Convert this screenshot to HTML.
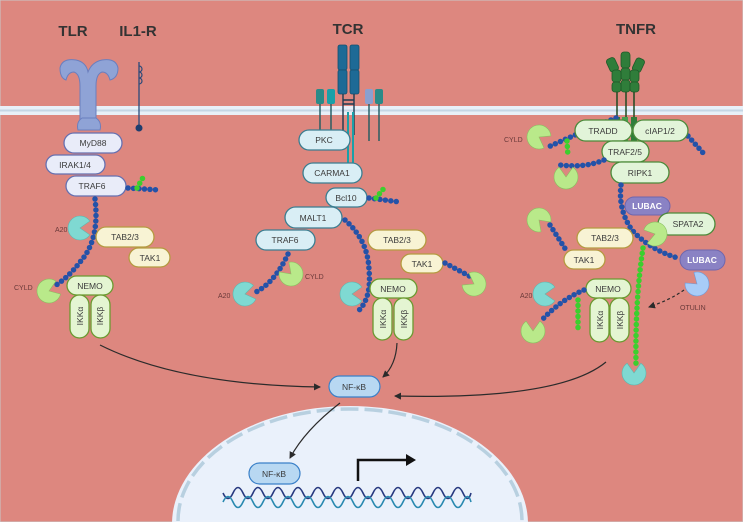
<!DOCTYPE html>
<html><head><meta charset="utf-8"><style>
html,body{margin:0;padding:0;background:#dd877f}
svg{display:block}
text{font-family:"Liberation Sans",sans-serif}
.lb{font-size:8.5px;fill:#3a3a3a;text-anchor:middle;dominant-baseline:central}
.sl{font-size:7px;fill:#6a3a3a}
.bp{fill:#e9ecf9;stroke:#6670b0;stroke-width:1.3}
.tp{fill:#d9eef5;stroke:#3b7d90;stroke-width:1.3}
.yp{fill:#f8f3d4;stroke:#b59a40;stroke-width:1.3}
.gp{fill:#e4f5d2;stroke:#6a9a30;stroke-width:1.3}
.np{fill:#e2f4d9;stroke:#4b8a3a;stroke-width:1.3}
.ub{fill:none;stroke:#2452a8;stroke-width:5.5;stroke-dasharray:0 5.5;stroke-linecap:round}
.m1{fill:none;stroke:#3ccf2e;stroke-width:5.5;stroke-dasharray:0 5.5;stroke-linecap:round}
.pg{fill:#b9e98a;stroke:#8ac060;stroke-width:.6}
.pt{fill:#7fd9d2;stroke:#5cb8b0;stroke-width:.6}
.ar{fill:none;stroke:#2b2b2b;stroke-width:1.2}
</style></head><body>
<svg width="743" height="522" viewBox="0 0 743 522" xmlns="http://www.w3.org/2000/svg">
<defs>
<path id="pac" d="M0 0 L9.8 -6.9 A12 12 0 1 0 9.8 6.9Z"/>
<marker id="ah" markerWidth="8" markerHeight="8" refX="6" refY="4" orient="auto" markerUnits="userSpaceOnUse"><path d="M0 0.5 L7 4 L0 7.5Z" fill="#2b2b2b"/></marker>
</defs>
<rect x="0" y="0" width="743" height="522" fill="#dd877f" stroke="#c9c9c9" stroke-width="1"/>
<rect x="0" y="106" width="743" height="9" fill="#e8f0f8"/>
<rect x="0" y="109.5" width="743" height="2" fill="#c5d6e5"/>
<text x="73" y="36" font-size="15" font-weight="bold" fill="#333" text-anchor="middle">TLR</text>
<text x="138" y="36" font-size="15" font-weight="bold" fill="#333" text-anchor="middle">IL1-R</text>
<text x="348" y="34" font-size="15" font-weight="bold" fill="#333" text-anchor="middle">TCR</text>
<text x="636" y="34" font-size="15" font-weight="bold" fill="#333" text-anchor="middle">TNFR</text>

<!-- TLR receptor -->
<g fill="#8fa3d6" stroke="#6a7fbf" stroke-width="1">
<path d="M60 68 Q62 58 76 60 Q86 62 88 72 Q92 62 102 60 Q116 58 118 68 Q118 78 110 80 Q108 72 102 72 Q96 74 96 86 L96 128 L80 128 L80 86 Q80 74 74 72 Q68 72 66 80 Q60 78 60 68Z"/>
<path d="M82 118 Q76 122 78 130 L100 130 Q102 122 96 118Z"/>
</g>
<path d="M139 62 L139 128" stroke="#2a4a7a" stroke-width="1.3"/>
<path d="M139 66 a3 3 0 1 1 0 6 a3 3 0 1 1 0 6 a3 3 0 1 1 0 6" fill="none" stroke="#2a4a7a" stroke-width="1.2"/>
<circle cx="139" cy="128" r="3.5" fill="#1e3d6e"/>

<rect class="bp" x="64" y="133" width="58" height="20" rx="10"/><text class="lb" x="93" y="143">MyD88</text>
<rect class="bp" x="46" y="155" width="59" height="19" rx="9.5"/><text class="lb" x="75" y="165">IRAK1/4</text>
<rect class="bp" x="66" y="176" width="60" height="20" rx="10"/><text class="lb" x="92" y="186">TRAF6</text>
<path class="ub" d="M128 188 L160 190"/>
<path class="m1" d="M137 188 L145 174"/>
<path class="ub" d="M95 199 Q100 240 80 262 Q68 278 53 287"/>
<use href="#pac" class="pt" transform="translate(80,228)"/><text class="sl" x="55" y="232">A20</text>
<use href="#pac" class="pg" transform="translate(49,291) rotate(-20)"/><text class="sl" x="14" y="290">CYLD</text>
<rect class="yp" x="96" y="227" width="58" height="20" rx="10"/><text class="lb" x="125" y="237">TAB2/3</text>
<rect class="yp" x="129" y="248" width="41" height="19" rx="9.5"/><text class="lb" x="150" y="258">TAK1</text>
<rect class="gp" x="67" y="276" width="46" height="19" rx="9.5"/><text class="lb" x="90" y="286">NEMO</text>
<rect class="gp" x="70" y="295" width="19" height="43" rx="9.5"/><text class="lb" transform="translate(80,316) rotate(-90)">IKKα</text>
<rect class="gp" x="91" y="295" width="19" height="43" rx="9.5"/><text class="lb" transform="translate(100,316) rotate(-90)">IKKβ</text>

<!-- TCR -->
<g fill="#1d6a96" stroke="#15506f" stroke-width=".8">
<rect x="338" y="45" width="9" height="25" rx="2"/><rect x="338" y="70" width="9" height="24" rx="2"/>
<rect x="350" y="45" width="9" height="25" rx="2"/><rect x="350" y="70" width="9" height="24" rx="2"/>
</g>
<path d="M343 94 V135 M354 94 V135 M343 100 H354 M343 104 H354" stroke="#1c3a50" stroke-width="1.4"/>
<rect x="316" y="89" width="8" height="15" rx="2" fill="#2a8a88"/><rect x="327" y="89" width="8" height="15" rx="2" fill="#1aa0a8"/>
<rect x="365" y="89" width="8" height="15" rx="2" fill="#8aa0d0"/><rect x="375" y="89" width="8" height="15" rx="2" fill="#2a8a88"/>
<path d="M320 104 V132 M331 104 V132 M369 104 V141 M379 104 V141" stroke="#1e5a60" stroke-width="1.4"/>
<path d="M348 112 V167 M353 112 V167" stroke="#1aa0a8" stroke-width="2"/>
<rect class="tp" x="299" y="130" width="51" height="20" rx="10"/><text class="lb" x="324" y="140">PKC</text>
<rect class="tp" x="303" y="163" width="59" height="20" rx="10"/><text class="lb" x="332" y="173">CARMA1</text>
<rect class="tp" x="326" y="188" width="41" height="19" rx="9.5"/><text class="lb" x="346" y="198">Bcl10</text>
<path class="ub" d="M369 198 L400 202"/>
<path class="m1" d="M376 198 L385 187"/>
<rect class="tp" x="285" y="207" width="57" height="21" rx="10.5"/><text class="lb" x="313" y="218">MALT1</text>
<rect class="tp" x="256" y="230" width="59" height="20" rx="10"/><text class="lb" x="285" y="240">TRAF6</text>
<path class="ub" d="M345 220 Q368 240 369 270 Q372 300 356 313"/>
<path class="ub" d="M288 254 Q275 282 256 292"/>
<use href="#pac" class="pg" transform="translate(291,274) rotate(-135)"/><text class="sl" x="305" y="279">CYLD</text>
<use href="#pac" class="pt" transform="translate(245,294) rotate(-10)"/><text class="sl" x="218" y="298">A20</text>
<use href="#pac" class="pt" transform="translate(352,294) rotate(0)"/>
<rect class="yp" x="368" y="230" width="58" height="20" rx="10"/><text class="lb" x="397" y="240">TAB2/3</text>
<rect class="yp" x="401" y="254" width="42" height="19" rx="9.5"/><text class="lb" x="422" y="264">TAK1</text>
<path class="ub" d="M445 263 L473 278"/>
<use href="#pac" class="pg" transform="translate(474,284) rotate(-150)"/>
<rect class="gp" x="370" y="279" width="47" height="19" rx="9.5"/><text class="lb" x="393" y="289">NEMO</text>
<rect class="gp" x="373" y="298" width="19" height="42" rx="9.5"/><text class="lb" transform="translate(383,319) rotate(-90)">IKKα</text>
<rect class="gp" x="394" y="298" width="19" height="42" rx="9.5"/><text class="lb" transform="translate(404,319) rotate(-90)">IKKβ</text>

<!-- TNFR -->
<g fill="#2f7d3a" stroke="#1f5a28" stroke-width=".8">
<rect x="621" y="52" width="9" height="16" rx="3"/><rect x="621" y="68" width="9" height="12" rx="3"/><rect x="621" y="80" width="9" height="12" rx="3"/>
<rect x="608" y="58" width="9" height="14" rx="3" transform="rotate(-25 612 65)"/><rect x="612" y="70" width="9" height="12" rx="3"/><rect x="612" y="82" width="9" height="10" rx="3"/>
<rect x="634" y="58" width="9" height="14" rx="3" transform="rotate(25 638 65)"/><rect x="630" y="70" width="9" height="12" rx="3"/><rect x="630" y="82" width="9" height="10" rx="3"/>
</g>
<path d="M617 92 V140 M626 92 V140 M634 92 V140" stroke="#1e4a22" stroke-width="1.5"/>
<rect x="614" y="117" width="6" height="24" fill="#2f7d3a"/><rect x="622" y="117" width="6" height="24" fill="#46a050"/><rect x="631" y="117" width="6" height="24" fill="#2f7d3a"/>
<path class="ub" d="M616 118 Q590 128 546 148"/>
<path class="m1" d="M567 141 L568 157"/>
<use href="#pac" class="pg" transform="translate(539,137) rotate(30)"/><text class="sl" x="504" y="142">CYLD</text>
<path class="ub" d="M688 136 L705 155"/>
<rect class="np" x="575" y="120" width="57" height="21" rx="10.5"/><text class="lb" x="603" y="131">TRADD</text>
<rect class="np" x="633" y="120" width="55" height="21" rx="10.5"/><text class="lb" x="660" y="131">cIAP1/2</text>
<rect class="np" x="602" y="141" width="47" height="21" rx="10.5"/><text class="lb" x="625" y="152">TRAF2/5</text>
<path class="ub" d="M604 160 Q585 168 560 165"/>
<use href="#pac" class="pg" transform="translate(566,177) rotate(-90)"/>
<rect class="np" x="611" y="162" width="58" height="21" rx="10.5"/><text class="lb" x="640" y="173">RIPK1</text>
<path class="ub" d="M621 185 Q618 210 632 230 Q650 250 678 258"/>
<rect x="625" y="197" width="45" height="18" rx="9" fill="#8a82c4" stroke="#6f66ad"/><text x="647" y="206" font-size="8.5" font-weight="bold" fill="#fff" text-anchor="middle" dominant-baseline="central">LUBAC</text>
<rect class="np" x="658" y="213" width="57" height="22" rx="11"/><text class="lb" x="688" y="224">SPATA2</text>
<use href="#pac" class="pg" transform="translate(655,234) rotate(165)"/>
<path class="m1" d="M643 248 Q635 300 636 365"/>
<use href="#pac" class="pt" transform="translate(634,373) rotate(-90)"/>
<rect x="680" y="250" width="45" height="20" rx="10" fill="#8a82c4" stroke="#6f66ad"/><text x="702" y="260" font-size="8.5" font-weight="bold" fill="#fff" text-anchor="middle" dominant-baseline="central">LUBAC</text>
<use href="#pac" fill="#a8ccf8" stroke="#6f9ad8" stroke-width=".6" transform="translate(697,284) rotate(-140)"/><text class="sl" x="680" y="310">OTULIN</text>
<path d="M684 290 Q670 300 649 307" fill="none" stroke="#2b2b2b" stroke-width="1.2" stroke-dasharray="3 2.5" marker-end="url(#ah)"/>
<use href="#pac" class="pg" transform="translate(539,220) rotate(45)"/>
<path class="ub" d="M550 225 L566 250"/>
<rect class="yp" x="577" y="228" width="56" height="20" rx="10"/><text class="lb" x="605" y="238">TAB2/3</text>
<rect class="yp" x="564" y="250" width="41" height="19" rx="9.5"/><text class="lb" x="584" y="260">TAK1</text>
<rect class="gp" x="586" y="279" width="45" height="19" rx="9.5"/><text class="lb" x="608" y="289">NEMO</text>
<path class="ub" d="M584 290 Q560 300 540 322"/>
<path class="m1" d="M578 300 L578 328"/>
<use href="#pac" class="pt" transform="translate(545,294) rotate(0)"/><text class="sl" x="520" y="298">A20</text>
<use href="#pac" class="pg" transform="translate(533,331) rotate(-90)"/>
<rect class="gp" x="590" y="298" width="19" height="44" rx="9.5"/><text class="lb" transform="translate(600,320) rotate(-90)">IKKα</text>
<rect class="gp" x="610" y="298" width="19" height="44" rx="9.5"/><text class="lb" transform="translate(620,320) rotate(-90)">IKKβ</text>

<!-- nucleus -->
<path d="M172 524 A178 118 0 0 1 528 524 Z" fill="#eaf1fb"/>
<path d="M178 521 A172 112 0 0 1 522 521" fill="none" stroke="#b8d0e0" stroke-width="3.5" stroke-dasharray="18 6"/>

<path class="ar" d="M100 345 Q180 385 320 387" marker-end="url(#ah)"/>
<path class="ar" d="M397 343 Q396 365 383 377" marker-end="url(#ah)"/>
<path class="ar" d="M606 362 Q560 400 395 396" marker-end="url(#ah)"/>
<rect x="329" y="376" width="51" height="21" rx="10.5" fill="#b8d8f2" stroke="#3a80c8" stroke-width="1.2"/><text class="lb" x="354" y="387">NF-κB</text>
<path class="ar" d="M340 403 Q305 430 290 458" marker-end="url(#ah)"/>
<rect x="249" y="463" width="51" height="21" rx="10.5" fill="#b8d8f2" stroke="#3a80c8" stroke-width="1.2"/><text class="lb" x="274" y="474">NF-κB</text>
<path d="M358 481 V460 H408" fill="none" stroke="#111" stroke-width="2.5"/>
<path d="M406 454 L416 460 L406 466Z" fill="#111"/>
<path d="M223 493 Q228 504 233 493 T243 493 T253 493 T263 493 T273 493 T283 493 T293 493 T303 493 T313 493 T323 493 T333 493 T343 493 T353 493 T363 493 T373 493 T383 493 T393 493 T403 493 T413 493 T423 493 T433 493 T443 493 T453 493 T463 493 T471 493" fill="none" stroke="#283a80" stroke-width="1.6"/>
<path d="M223 502 Q228 491 233 502 T243 502 T253 502 T263 502 T273 502 T283 502 T293 502 T303 502 T313 502 T323 502 T333 502 T343 502 T353 502 T363 502 T373 502 T383 502 T393 502 T403 502 T413 502 T423 502 T433 502 T443 502 T453 502 T463 502 T471 502" fill="none" stroke="#2a8ab0" stroke-width="1.6"/>
</svg>
</body></html>
